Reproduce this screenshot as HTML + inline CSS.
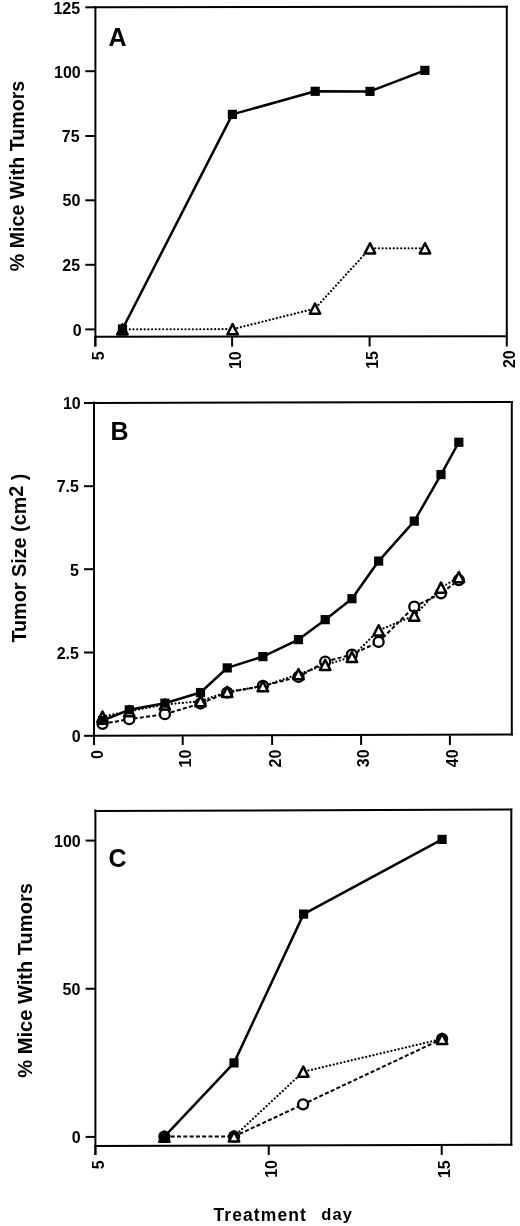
<!DOCTYPE html>
<html><head><meta charset="utf-8"><title>Figure</title>
<style>
html,body{margin:0;padding:0;background:#fff;}
body{width:520px;height:1226px;overflow:hidden;}
svg{display:block;}
text{font-family:"Liberation Sans", Arial, Helvetica, sans-serif;fill:#000;}
</style></head>
<body>
<svg width="520" height="1226" viewBox="0 0 520 1226">
<rect width="520" height="1226" fill="#fff"/>
<line x1="94.40" y1="7.35" x2="507.80" y2="6.70" stroke="#000" stroke-width="2"/>
<line x1="506.80" y1="5.70" x2="506.80" y2="337.30" stroke="#000" stroke-width="2"/>
<line x1="94.40" y1="336.80" x2="507.80" y2="336.30" stroke="#000" stroke-width="2"/>
<line x1="95.40" y1="6.00" x2="95.40" y2="346.50" stroke="#000" stroke-width="2"/>
<line x1="85.30" y1="7.30" x2="95.40" y2="7.30" stroke="#000" stroke-width="2"/>
<text x="80.15" y="13.90" font-size="16" font-weight="bold" text-anchor="end">125</text>
<line x1="85.30" y1="71.20" x2="95.40" y2="71.20" stroke="#000" stroke-width="2"/>
<text x="80.75" y="77.70" font-size="16" font-weight="bold" text-anchor="end">100</text>
<line x1="85.30" y1="136.00" x2="95.40" y2="136.00" stroke="#000" stroke-width="2"/>
<text x="79.55" y="141.90" font-size="16" font-weight="bold" text-anchor="end">75</text>
<line x1="85.30" y1="200.30" x2="95.40" y2="200.30" stroke="#000" stroke-width="2"/>
<text x="80.35" y="206.10" font-size="16" font-weight="bold" text-anchor="end">50</text>
<line x1="85.30" y1="264.80" x2="95.40" y2="264.80" stroke="#000" stroke-width="2"/>
<text x="80.15" y="270.50" font-size="16" font-weight="bold" text-anchor="end">25</text>
<line x1="85.30" y1="329.40" x2="95.40" y2="329.40" stroke="#000" stroke-width="2"/>
<text x="81.75" y="335.70" font-size="16" font-weight="bold" text-anchor="end">0</text>
<line x1="95.30" y1="336.80" x2="95.30" y2="346.50" stroke="#000" stroke-width="2"/>
<text transform="translate(103.70,351.25) rotate(-90)" font-size="16" font-weight="bold" text-anchor="end">5</text>
<line x1="232.10" y1="336.80" x2="232.10" y2="346.50" stroke="#000" stroke-width="2"/>
<text transform="translate(240.70,351.25) rotate(-90)" font-size="16" font-weight="bold" text-anchor="end">10</text>
<line x1="369.60" y1="336.80" x2="369.60" y2="346.50" stroke="#000" stroke-width="2"/>
<text transform="translate(378.20,351.05) rotate(-90)" font-size="16" font-weight="bold" text-anchor="end">15</text>
<line x1="506.80" y1="336.80" x2="506.80" y2="346.50" stroke="#000" stroke-width="2"/>
<text transform="translate(515.10,350.25) rotate(-90)" font-size="16" font-weight="bold" text-anchor="end">20</text>
<text x="108.50" y="45.60" font-size="25" font-weight="bold" text-anchor="start">A</text>
<text transform="translate(24.20,271.20) rotate(-90)" font-size="19.6" font-weight="bold" text-anchor="start" textLength="190.4" lengthAdjust="spacingAndGlyphs">% Mice With Tumors</text>
<polyline points="122.40,329.30 232.60,329.20 315.00,308.60 370.00,248.30 425.00,248.30" fill="none" stroke="#000" stroke-width="2.2" stroke-linecap="round" stroke-dasharray="0.01 3.7"/>
<polyline points="122.50,329.00 232.40,114.40 315.20,91.30 370.00,91.40 424.90,70.40" fill="none" stroke="#000" stroke-width="2.5" stroke-linejoin="round"/>
<polygon points="122.40,324.20 127.60,334.40 117.20,334.40" fill="#fff" stroke="#000" stroke-width="2.5" stroke-linejoin="round"/>
<polygon points="232.60,324.10 237.80,334.30 227.40,334.30" fill="#fff" stroke="#000" stroke-width="2.5" stroke-linejoin="round"/>
<polygon points="315.00,303.50 320.20,313.70 309.80,313.70" fill="#fff" stroke="#000" stroke-width="2.5" stroke-linejoin="round"/>
<polygon points="370.00,243.20 375.20,253.40 364.80,253.40" fill="#fff" stroke="#000" stroke-width="2.5" stroke-linejoin="round"/>
<polygon points="425.00,243.20 430.20,253.40 419.80,253.40" fill="#fff" stroke="#000" stroke-width="2.5" stroke-linejoin="round"/>
<rect x="117.90" y="324.40" width="9.2" height="9.2" fill="#000"/>
<rect x="227.80" y="109.80" width="9.2" height="9.2" fill="#000"/>
<rect x="310.60" y="86.70" width="9.2" height="9.2" fill="#000"/>
<rect x="365.40" y="86.80" width="9.2" height="9.2" fill="#000"/>
<rect x="420.30" y="65.80" width="9.2" height="9.2" fill="#000"/>
<line x1="93.00" y1="403.00" x2="512.80" y2="401.90" stroke="#000" stroke-width="2"/>
<line x1="511.80" y1="400.90" x2="511.80" y2="735.50" stroke="#000" stroke-width="2"/>
<line x1="93.00" y1="735.80" x2="512.80" y2="734.50" stroke="#000" stroke-width="2"/>
<line x1="94.00" y1="401.50" x2="94.00" y2="745.00" stroke="#000" stroke-width="2"/>
<line x1="84.00" y1="403.00" x2="94.00" y2="403.00" stroke="#000" stroke-width="2"/>
<text x="80.75" y="409.20" font-size="16" font-weight="bold" text-anchor="end">10</text>
<line x1="84.00" y1="486.20" x2="94.00" y2="486.20" stroke="#000" stroke-width="2"/>
<text x="78.95" y="492.10" font-size="16" font-weight="bold" text-anchor="end">7.5</text>
<line x1="84.00" y1="569.20" x2="94.00" y2="569.20" stroke="#000" stroke-width="2"/>
<text x="78.95" y="575.50" font-size="16" font-weight="bold" text-anchor="end">5</text>
<line x1="84.00" y1="652.50" x2="94.00" y2="652.50" stroke="#000" stroke-width="2"/>
<text x="78.95" y="658.90" font-size="16" font-weight="bold" text-anchor="end">2.5</text>
<line x1="84.00" y1="735.80" x2="94.00" y2="735.80" stroke="#000" stroke-width="2"/>
<text x="80.75" y="742.40" font-size="16" font-weight="bold" text-anchor="end">0</text>
<line x1="94.00" y1="735.40" x2="94.00" y2="745.00" stroke="#000" stroke-width="2"/>
<text transform="translate(103.20,750.05) rotate(-90)" font-size="16" font-weight="bold" text-anchor="end">0</text>
<line x1="182.70" y1="735.40" x2="182.70" y2="745.00" stroke="#000" stroke-width="2"/>
<text transform="translate(190.70,749.65) rotate(-90)" font-size="16" font-weight="bold" text-anchor="end">10</text>
<line x1="272.10" y1="735.40" x2="272.10" y2="745.00" stroke="#000" stroke-width="2"/>
<text transform="translate(280.80,749.65) rotate(-90)" font-size="16" font-weight="bold" text-anchor="end">20</text>
<line x1="361.10" y1="735.40" x2="361.10" y2="745.00" stroke="#000" stroke-width="2"/>
<text transform="translate(368.90,749.45) rotate(-90)" font-size="16" font-weight="bold" text-anchor="end">30</text>
<line x1="449.90" y1="735.40" x2="449.90" y2="745.00" stroke="#000" stroke-width="2"/>
<text transform="translate(457.90,749.45) rotate(-90)" font-size="16" font-weight="bold" text-anchor="end">40</text>
<text x="110.50" y="440.00" font-size="25" font-weight="bold" text-anchor="start">B</text>
<text transform="translate(25.80,642.60) rotate(-90)" font-size="19.6" font-weight="bold" text-anchor="start" textLength="169" lengthAdjust="spacingAndGlyphs">Tumor Size (cm<tspan dy="-3">2</tspan><tspan dy="3"> )</tspan></text>
<polyline points="102.54,723.82 129.26,719.16 164.89,714.17 200.51,703.52 227.23,692.54 262.86,685.88 298.49,676.89 325.21,661.59 351.93,654.60 378.65,641.95 414.28,606.67 441.00,593.36 458.82,580.05" fill="none" stroke="#000" stroke-width="2.0" stroke-dasharray="4 2.3"/>
<polyline points="102.54,716.66 129.26,711.17 164.89,704.52 200.51,701.19 227.23,691.87 262.86,686.21 298.49,674.23 325.21,664.91 351.93,656.93 378.65,630.30 414.28,615.66 441.00,587.70 458.82,577.05" fill="none" stroke="#000" stroke-width="2.2" stroke-linecap="round" stroke-dasharray="0.01 3.7"/>
<polyline points="102.54,720.49 129.26,709.84 164.89,703.19 200.51,692.54 227.23,667.91 262.86,656.59 298.49,639.62 325.21,619.65 351.93,598.69 378.65,561.08 414.28,521.14 441.00,474.55 458.82,442.27" fill="none" stroke="#000" stroke-width="2.5" stroke-linejoin="round"/>
<circle cx="102.54" cy="723.82" r="5.0" fill="#fff" stroke="#000" stroke-width="2.3"/>
<circle cx="129.26" cy="719.16" r="5.0" fill="#fff" stroke="#000" stroke-width="2.3"/>
<circle cx="164.89" cy="714.17" r="5.0" fill="#fff" stroke="#000" stroke-width="2.3"/>
<circle cx="200.51" cy="703.52" r="5.0" fill="#fff" stroke="#000" stroke-width="2.3"/>
<circle cx="227.23" cy="692.54" r="5.0" fill="#fff" stroke="#000" stroke-width="2.3"/>
<circle cx="262.86" cy="685.88" r="5.0" fill="#fff" stroke="#000" stroke-width="2.3"/>
<circle cx="298.49" cy="676.89" r="5.0" fill="#fff" stroke="#000" stroke-width="2.3"/>
<circle cx="325.21" cy="661.59" r="5.0" fill="#fff" stroke="#000" stroke-width="2.3"/>
<circle cx="351.93" cy="654.60" r="5.0" fill="#fff" stroke="#000" stroke-width="2.3"/>
<circle cx="378.65" cy="641.95" r="5.0" fill="#fff" stroke="#000" stroke-width="2.3"/>
<circle cx="414.28" cy="606.67" r="5.0" fill="#fff" stroke="#000" stroke-width="2.3"/>
<circle cx="441.00" cy="593.36" r="5.0" fill="#fff" stroke="#000" stroke-width="2.3"/>
<circle cx="458.82" cy="580.05" r="5.0" fill="#fff" stroke="#000" stroke-width="2.3"/>
<polygon points="102.54,711.56 107.74,721.76 97.34,721.76" fill="#fff" stroke="#000" stroke-width="2.5" stroke-linejoin="round"/>
<polygon points="129.26,706.07 134.46,716.27 124.06,716.27" fill="#fff" stroke="#000" stroke-width="2.5" stroke-linejoin="round"/>
<polygon points="164.89,699.42 170.09,709.62 159.69,709.62" fill="#fff" stroke="#000" stroke-width="2.5" stroke-linejoin="round"/>
<polygon points="200.51,696.09 205.71,706.29 195.31,706.29" fill="#fff" stroke="#000" stroke-width="2.5" stroke-linejoin="round"/>
<polygon points="227.23,686.77 232.43,696.97 222.03,696.97" fill="#fff" stroke="#000" stroke-width="2.5" stroke-linejoin="round"/>
<polygon points="262.86,681.11 268.06,691.31 257.66,691.31" fill="#fff" stroke="#000" stroke-width="2.5" stroke-linejoin="round"/>
<polygon points="298.49,669.13 303.69,679.33 293.29,679.33" fill="#fff" stroke="#000" stroke-width="2.5" stroke-linejoin="round"/>
<polygon points="325.21,659.81 330.41,670.01 320.01,670.01" fill="#fff" stroke="#000" stroke-width="2.5" stroke-linejoin="round"/>
<polygon points="351.93,651.83 357.13,662.03 346.73,662.03" fill="#fff" stroke="#000" stroke-width="2.5" stroke-linejoin="round"/>
<polygon points="378.65,625.20 383.85,635.40 373.45,635.40" fill="#fff" stroke="#000" stroke-width="2.5" stroke-linejoin="round"/>
<polygon points="414.28,610.56 419.48,620.76 409.08,620.76" fill="#fff" stroke="#000" stroke-width="2.5" stroke-linejoin="round"/>
<polygon points="441.00,582.60 446.20,592.80 435.80,592.80" fill="#fff" stroke="#000" stroke-width="2.5" stroke-linejoin="round"/>
<polygon points="458.82,571.95 464.02,582.15 453.62,582.15" fill="#fff" stroke="#000" stroke-width="2.5" stroke-linejoin="round"/>
<rect x="97.94" y="715.89" width="9.2" height="9.2" fill="#000"/>
<rect x="124.66" y="705.24" width="9.2" height="9.2" fill="#000"/>
<rect x="160.29" y="698.59" width="9.2" height="9.2" fill="#000"/>
<rect x="195.91" y="687.94" width="9.2" height="9.2" fill="#000"/>
<rect x="222.63" y="663.31" width="9.2" height="9.2" fill="#000"/>
<rect x="258.26" y="651.99" width="9.2" height="9.2" fill="#000"/>
<rect x="293.89" y="635.02" width="9.2" height="9.2" fill="#000"/>
<rect x="320.61" y="615.05" width="9.2" height="9.2" fill="#000"/>
<rect x="347.33" y="594.09" width="9.2" height="9.2" fill="#000"/>
<rect x="374.05" y="556.48" width="9.2" height="9.2" fill="#000"/>
<rect x="409.68" y="516.54" width="9.2" height="9.2" fill="#000"/>
<rect x="436.40" y="469.95" width="9.2" height="9.2" fill="#000"/>
<rect x="454.22" y="437.67" width="9.2" height="9.2" fill="#000"/>
<line x1="94.40" y1="811.00" x2="512.30" y2="809.60" stroke="#000" stroke-width="2"/>
<line x1="511.30" y1="808.60" x2="511.30" y2="1145.80" stroke="#000" stroke-width="2"/>
<line x1="94.40" y1="1146.00" x2="512.30" y2="1144.80" stroke="#000" stroke-width="2"/>
<line x1="95.40" y1="809.60" x2="95.40" y2="1155.00" stroke="#000" stroke-width="2"/>
<line x1="85.60" y1="840.60" x2="95.40" y2="840.60" stroke="#000" stroke-width="2"/>
<text x="80.75" y="846.90" font-size="16" font-weight="bold" text-anchor="end">100</text>
<line x1="85.60" y1="988.75" x2="95.40" y2="988.75" stroke="#000" stroke-width="2"/>
<text x="80.35" y="994.50" font-size="16" font-weight="bold" text-anchor="end">50</text>
<line x1="85.60" y1="1136.90" x2="95.40" y2="1136.90" stroke="#000" stroke-width="2"/>
<text x="80.75" y="1143.40" font-size="16" font-weight="bold" text-anchor="end">0</text>
<line x1="95.40" y1="1145.40" x2="95.40" y2="1155.00" stroke="#000" stroke-width="2"/>
<text transform="translate(104.00,1160.45) rotate(-90)" font-size="16" font-weight="bold" text-anchor="end">5</text>
<line x1="268.75" y1="1145.40" x2="268.75" y2="1155.00" stroke="#000" stroke-width="2"/>
<text transform="translate(276.50,1160.05) rotate(-90)" font-size="16" font-weight="bold" text-anchor="end">10</text>
<line x1="441.70" y1="1145.40" x2="441.70" y2="1155.00" stroke="#000" stroke-width="2"/>
<text transform="translate(450.30,1160.25) rotate(-90)" font-size="16" font-weight="bold" text-anchor="end">15</text>
<text x="108.50" y="866.50" font-size="25" font-weight="bold" text-anchor="start">C</text>
<text transform="translate(31.80,1077.70) rotate(-90)" font-size="20" font-weight="bold" text-anchor="start" textLength="194.6" lengthAdjust="spacingAndGlyphs">% Mice With Tumors</text>
<text x="213.50" y="1221.00" font-size="17.5" font-weight="bold" text-anchor="start" textLength="92.3" lengthAdjust="spacing">Treatment</text>
<text x="321.30" y="1219.80" font-size="16.5" font-weight="bold" text-anchor="start" textLength="30.6" lengthAdjust="spacing">day</text>
<polyline points="164.40,1136.60 234.00,1136.50 303.10,1104.30 442.10,1038.90" fill="none" stroke="#000" stroke-width="2.0" stroke-dasharray="4 2.3"/>
<polyline points="234.00,1136.50 303.30,1071.70 442.10,1038.90" fill="none" stroke="#000" stroke-width="2.2" stroke-linecap="round" stroke-dasharray="0.01 3.7"/>
<polyline points="164.40,1136.60 234.00,1062.90 303.60,914.10 442.10,839.40" fill="none" stroke="#000" stroke-width="2.5" stroke-linejoin="round"/>
<circle cx="164.40" cy="1136.60" r="5.0" fill="#fff" stroke="#000" stroke-width="2.3"/>
<circle cx="234.00" cy="1136.50" r="6.15" fill="#000"/>
<circle cx="303.10" cy="1104.30" r="5.0" fill="#fff" stroke="#000" stroke-width="2.3"/>
<circle cx="442.10" cy="1038.90" r="6.15" fill="#000"/>
<polygon points="164.40,1131.50 169.60,1141.70 159.20,1141.70" fill="#fff" stroke="#000" stroke-width="2.5" stroke-linejoin="round"/>
<polygon points="234.00,1131.40 239.20,1141.60 228.80,1141.60" fill="#fff" stroke="#000" stroke-width="2.5" stroke-linejoin="round"/>
<polygon points="303.30,1066.60 308.50,1076.80 298.10,1076.80" fill="#fff" stroke="#000" stroke-width="2.5" stroke-linejoin="round"/>
<polygon points="442.10,1033.80 447.30,1044.00 436.90,1044.00" fill="#fff" stroke="#000" stroke-width="2.5" stroke-linejoin="round"/>
<rect x="159.80" y="1132.00" width="9.2" height="9.2" fill="#000"/>
<rect x="229.40" y="1058.30" width="9.2" height="9.2" fill="#000"/>
<rect x="299.00" y="909.50" width="9.2" height="9.2" fill="#000"/>
<rect x="437.50" y="834.80" width="9.2" height="9.2" fill="#000"/>
</svg>
</body></html>
